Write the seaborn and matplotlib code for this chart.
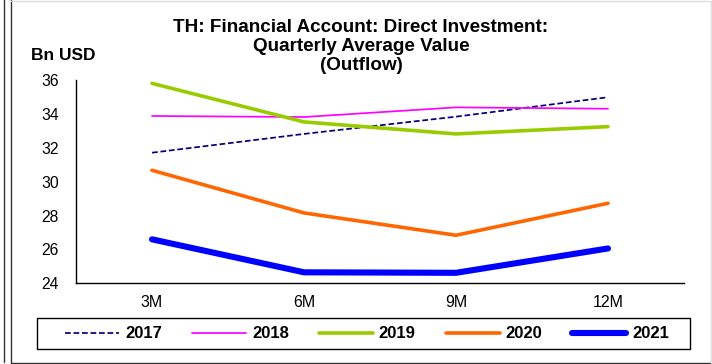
import matplotlib
matplotlib.use("Agg")
import matplotlib.pyplot as plt
from matplotlib.lines import Line2D
from matplotlib.patches import Rectangle
import pandas as pd
import seaborn as sns

# Cumulative period labels and quarterly average outflow values (Bn USD)
periods = ["3M", "6M", "9M", "12M"]
years = ["2017", "2018", "2019", "2020", "2021"]
v2017 = [31.72, 32.83, 33.85, 35.00]
v2018 = [33.89, 33.83, 34.40, 34.32]
v2019 = [35.82, 33.54, 32.83, 33.26]
v2020 = [30.68, 28.16, 26.84, 28.73]
v2021 = [26.60, 24.65, 24.62, 26.06]
y_ticks = [24, 26, 28, 30, 32, 34, 36]

series = dict(zip(years, [v2017, v2018, v2019, v2020, v2021]))
df = pd.DataFrame(
    [(p, y, v) for y, vals in series.items() for p, v in zip(periods, vals)],
    columns=["period", "year", "value"],
)

styles = {
    "2017": dict(color="#000080", lw=1.25, ls=(0, (3.3, 1.6))),
    "2018": dict(color="#FF00FF", lw=1.25, ls="-"),
    "2019": dict(color="#99CC00", lw=2.6, ls="-"),
    "2020": dict(color="#FF6600", lw=2.6, ls="-"),
    "2021": dict(color="#0000FF", lw=4.4, ls="-"),
}

sns.set_theme(style="white")
plt.rcParams["font.family"] = ["Liberation Sans", "DejaVu Sans"]
for key in ["text.color", "axes.labelcolor", "xtick.color", "ytick.color"]:
    plt.rcParams[key] = "black"

W, H = 712, 364
PX = 72 / 100  # points per pixel at 100 dpi
fig = plt.figure(figsize=(W / 100, H / 100), dpi=100)
ax = fig.add_axes([76 / W, 1 - 283.3 / H, (684 - 76) / W, (283.3 - 80.3) / H])

for yr in years:
    st = styles[yr]
    sns.lineplot(
        data=df[df["year"] == yr], x="period", y="value", ax=ax,
        color=st["color"], linewidth=st["lw"], linestyle=st["ls"],
        solid_capstyle="round", dash_capstyle="butt", sort=False, legend=False,
    )

ax.set_xlim(-0.5, 3.5)
ax.set_ylim(24, 36)
ax.set_yticks(y_ticks)
ax.set_yticklabels([str(t) for t in y_ticks], fontsize=11.3)
ax.set_xticks(range(len(periods)))
ax.set_xticklabels(periods, fontsize=11.5)
ax.set_xticks([0.5, 1.5, 2.5, 3.5], minor=True)
ax.tick_params(axis="x", which="major", length=0, pad=12 * PX)
ax.tick_params(axis="x", which="minor", length=5 * PX, width=1, color="black", direction="out")
ax.tick_params(axis="y", length=5 * PX, width=1, color="black", direction="out", pad=12 * PX)
ax.set_xlabel("")
ax.set_ylabel("")
for side in ["top", "right"]:
    ax.spines[side].set_visible(False)
for side in ["left", "bottom"]:
    ax.spines[side].set_color("black")
    ax.spines[side].set_linewidth(1.0)
ax.patch.set_alpha(0)

fig.text(361 / W, 1 - 18.5 / H, "TH: Financial Account: Direct Investment:\nQuarterly Average Value\n(Outflow)",
         ha="center", va="top", fontsize=13.6, fontweight="bold", linespacing=1.18)
fig.text(63 / W, 1 - 56 / H, "Bn USD", ha="center", va="center", fontsize=12.5, fontweight="bold")

handles = [Line2D([], [], color=styles[y]["color"], lw=styles[y]["lw"], ls=styles[y]["ls"],
                  solid_capstyle="round") for y in years]
leg = fig.legend(handles, years, ncol=5, loc="center",
                 bbox_to_anchor=(367.2 / W, 1 - 334 / H),
                 prop={"weight": "bold", "size": 12}, handlelength=3.24, handletextpad=0.36,
                 columnspacing=1.8, frameon=False, borderpad=0.2)
fig.add_artist(Rectangle((37.3 / W, 1 - 349.3 / H), (690 - 37.3) / W, 31 / H,
                         fill=False, edgecolor="black", lw=1.0, transform=fig.transFigure))

# Outer frame lines
fig.add_artist(Line2D([4 / W, 4 / W], [1, 1 - 362 / H], color="#333333", lw=1.0, transform=fig.transFigure))
fig.add_artist(Line2D([10.5 / W, 10.5 / W, 711 / W], [1, 1 - 362.5 / H, 1 - 362.5 / H],
                      color="#333333", lw=1.0, transform=fig.transFigure))
fig.add_artist(Line2D([10.5 / W, 711 / W, 711 / W], [1 - 0.5 / H, 1 - 0.5 / H, 1 - 362.5 / H],
                      color="#DDDDDD", lw=1.0, transform=fig.transFigure))

fig.savefig("out.png", dpi=100, facecolor="white")
